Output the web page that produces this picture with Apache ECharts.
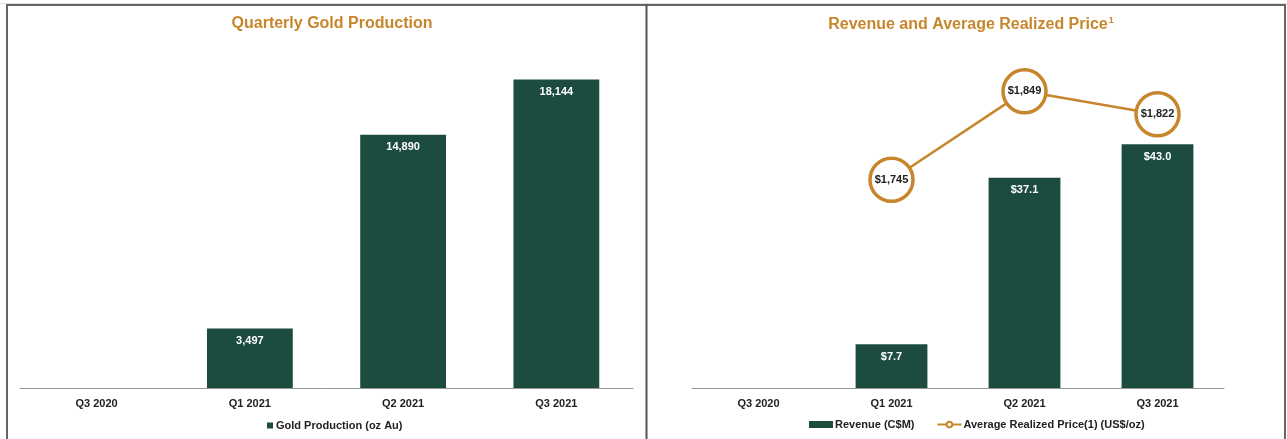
<!DOCTYPE html>
<html>
<head>
<meta charset="utf-8">
<script src="https://cdn.jsdelivr.net/npm/echarts@6/dist/echarts.min.js"></script>
<style>
  html, body { margin: 0; padding: 0; background: #fff; }
  #main { width: 1287px; height: 439px; }
</style>
</head>
<body>
<div id="main"></div>
<script>
  const quarters = ["Q3 2020", "Q1 2021", "Q2 2021", "Q3 2021"]
  const goldProduction = [null, 3497, 14890, 18144] // oz Au
  const revenue = [null, 7.7, 37.1, 43.0] // C$M
  const avgPrice = [null, 1745, 1849, 1822] // US$/oz

  const green = "#1c4b40"
  const gold = "#c8862c"
  const font = "Liberation Sans, Arial, sans-serif"

  const xAxisBase = {
    type: "category",
    data: quarters,
    axisTick: { show: false },
    axisLine: { lineStyle: { color: "#999", width: 1 } },
    axisLabel: { color: "#222", fontWeight: "bold", fontSize: 11, margin: 10, fontFamily: font },
  }

  const option = {
    backgroundColor: "#fff",
    animation: false,
    textStyle: { fontFamily: font },
    title: [
      {
        text: "Quarterly Gold Production",
        left: 327, top: 11, textAlign: "center",
        textStyle: { color: gold, fontSize: 16, fontWeight: "bold", fontFamily: font },
      },
      {
        text: "{a|Revenue and Average Realized Price}{s|1}",
        left: 966, top: 11, textAlign: "center",
        textStyle: {
          rich: {
            a: { color: gold, fontSize: 16, fontWeight: "bold", fontFamily: font },
            s: { color: gold, fontSize: 9, fontWeight: "bold", fontFamily: font, verticalAlign: "top", padding: [0, 0, 8, 1] },
          },
        },
      },
    ],
    legend: [
      {
        data: ["Gold Production (oz Au)"],
        left: 262, top: 415,
        icon: "rect", itemWidth: 6, itemHeight: 6, itemGap: 4,
        textStyle: { color: "#222", fontWeight: "bold", fontSize: 11, fontFamily: font, padding: [0, 0, 0, -2] },
      },
      {
        data: [{ name: "Revenue (C$M)", icon: "rect" }, "Average Realized Price(1) (US$/oz)"],
        left: 804, top: 414,
        itemWidth: 24, itemHeight: 7, itemGap: 22,
        textStyle: { color: "#222", fontWeight: "bold", fontSize: 11, fontFamily: font, padding: [0, 0, 0, -3] },
      },
    ],
    grid: [
      { left: 20, right: 654, top: 48, bottom: 51 },
      { left: 692, right: 63, top: 48, bottom: 51 },
    ],
    xAxis: [
      Object.assign({ gridIndex: 0 }, xAxisBase),
      Object.assign({ gridIndex: 1 }, xAxisBase),
    ],
    yAxis: [
      { type: "value", gridIndex: 0, min: 0, max: 20000, show: false, splitLine: { show: false } },
      { type: "value", gridIndex: 1, min: 0, max: 60, show: false, splitLine: { show: false } },
      { type: "value", gridIndex: 1, min: 1500, max: 1900, show: false, splitLine: { show: false } },
    ],
    series: [
      {
        name: "Gold Production (oz Au)",
        type: "bar",
        xAxisIndex: 0, yAxisIndex: 0,
        data: goldProduction,
        barWidth: "56%",
        itemStyle: { color: green },
        label: {
          show: true, position: "insideTop", distance: 7,
          color: "#fff", fontWeight: "bold", fontSize: 11, fontFamily: font,
          formatter: (p) => p.value.toLocaleString("en-US"),
        },
      },
      {
        name: "Revenue (C$M)",
        type: "bar",
        xAxisIndex: 1, yAxisIndex: 1,
        data: revenue,
        barWidth: "54%",
        itemStyle: { color: green },
        label: {
          show: true, position: "insideTop", distance: 7,
          color: "#fff", fontWeight: "bold", fontSize: 11, fontFamily: font,
          formatter: (p) => "$" + p.value.toFixed(1),
        },
      },
      {
        name: "Average Realized Price(1) (US$/oz)",
        type: "line",
        xAxisIndex: 1, yAxisIndex: 2,
        data: avgPrice,
        symbol: "circle",
        symbolSize: 43,
        z: 5,
        lineStyle: { color: gold, width: 2.5 },
        itemStyle: { color: "#fff", borderColor: gold, borderWidth: 3.5 },
        label: {
          show: true, position: "inside",
          color: "#222", fontWeight: "bold", fontSize: 11, fontFamily: font,
          formatter: (p) => "$" + p.value.toLocaleString("en-US"),
        },
      },
    ],
    graphic: [
      { type: "line", shape: { x1: 0, y1: 3.5, x2: 1287, y2: 3.5 }, style: { stroke: "#ddd", lineWidth: 1 } },
      { type: "line", shape: { x1: 6, y1: 5, x2: 1286, y2: 5 }, style: { stroke: "#666", lineWidth: 2 } },
      { type: "line", shape: { x1: 7, y1: 4, x2: 7, y2: 439 }, style: { stroke: "#666", lineWidth: 2 } },
      { type: "line", shape: { x1: 646.5, y1: 4, x2: 646.5, y2: 439 }, style: { stroke: "#555", lineWidth: 2 } },
      { type: "line", shape: { x1: 1285, y1: 4, x2: 1285, y2: 439 }, style: { stroke: "#666", lineWidth: 2 } },
    ],
  }

  const myChart = echarts.init(document.getElementById("main"))
  myChart.setOption(option)
</script>
</body>
</html>
